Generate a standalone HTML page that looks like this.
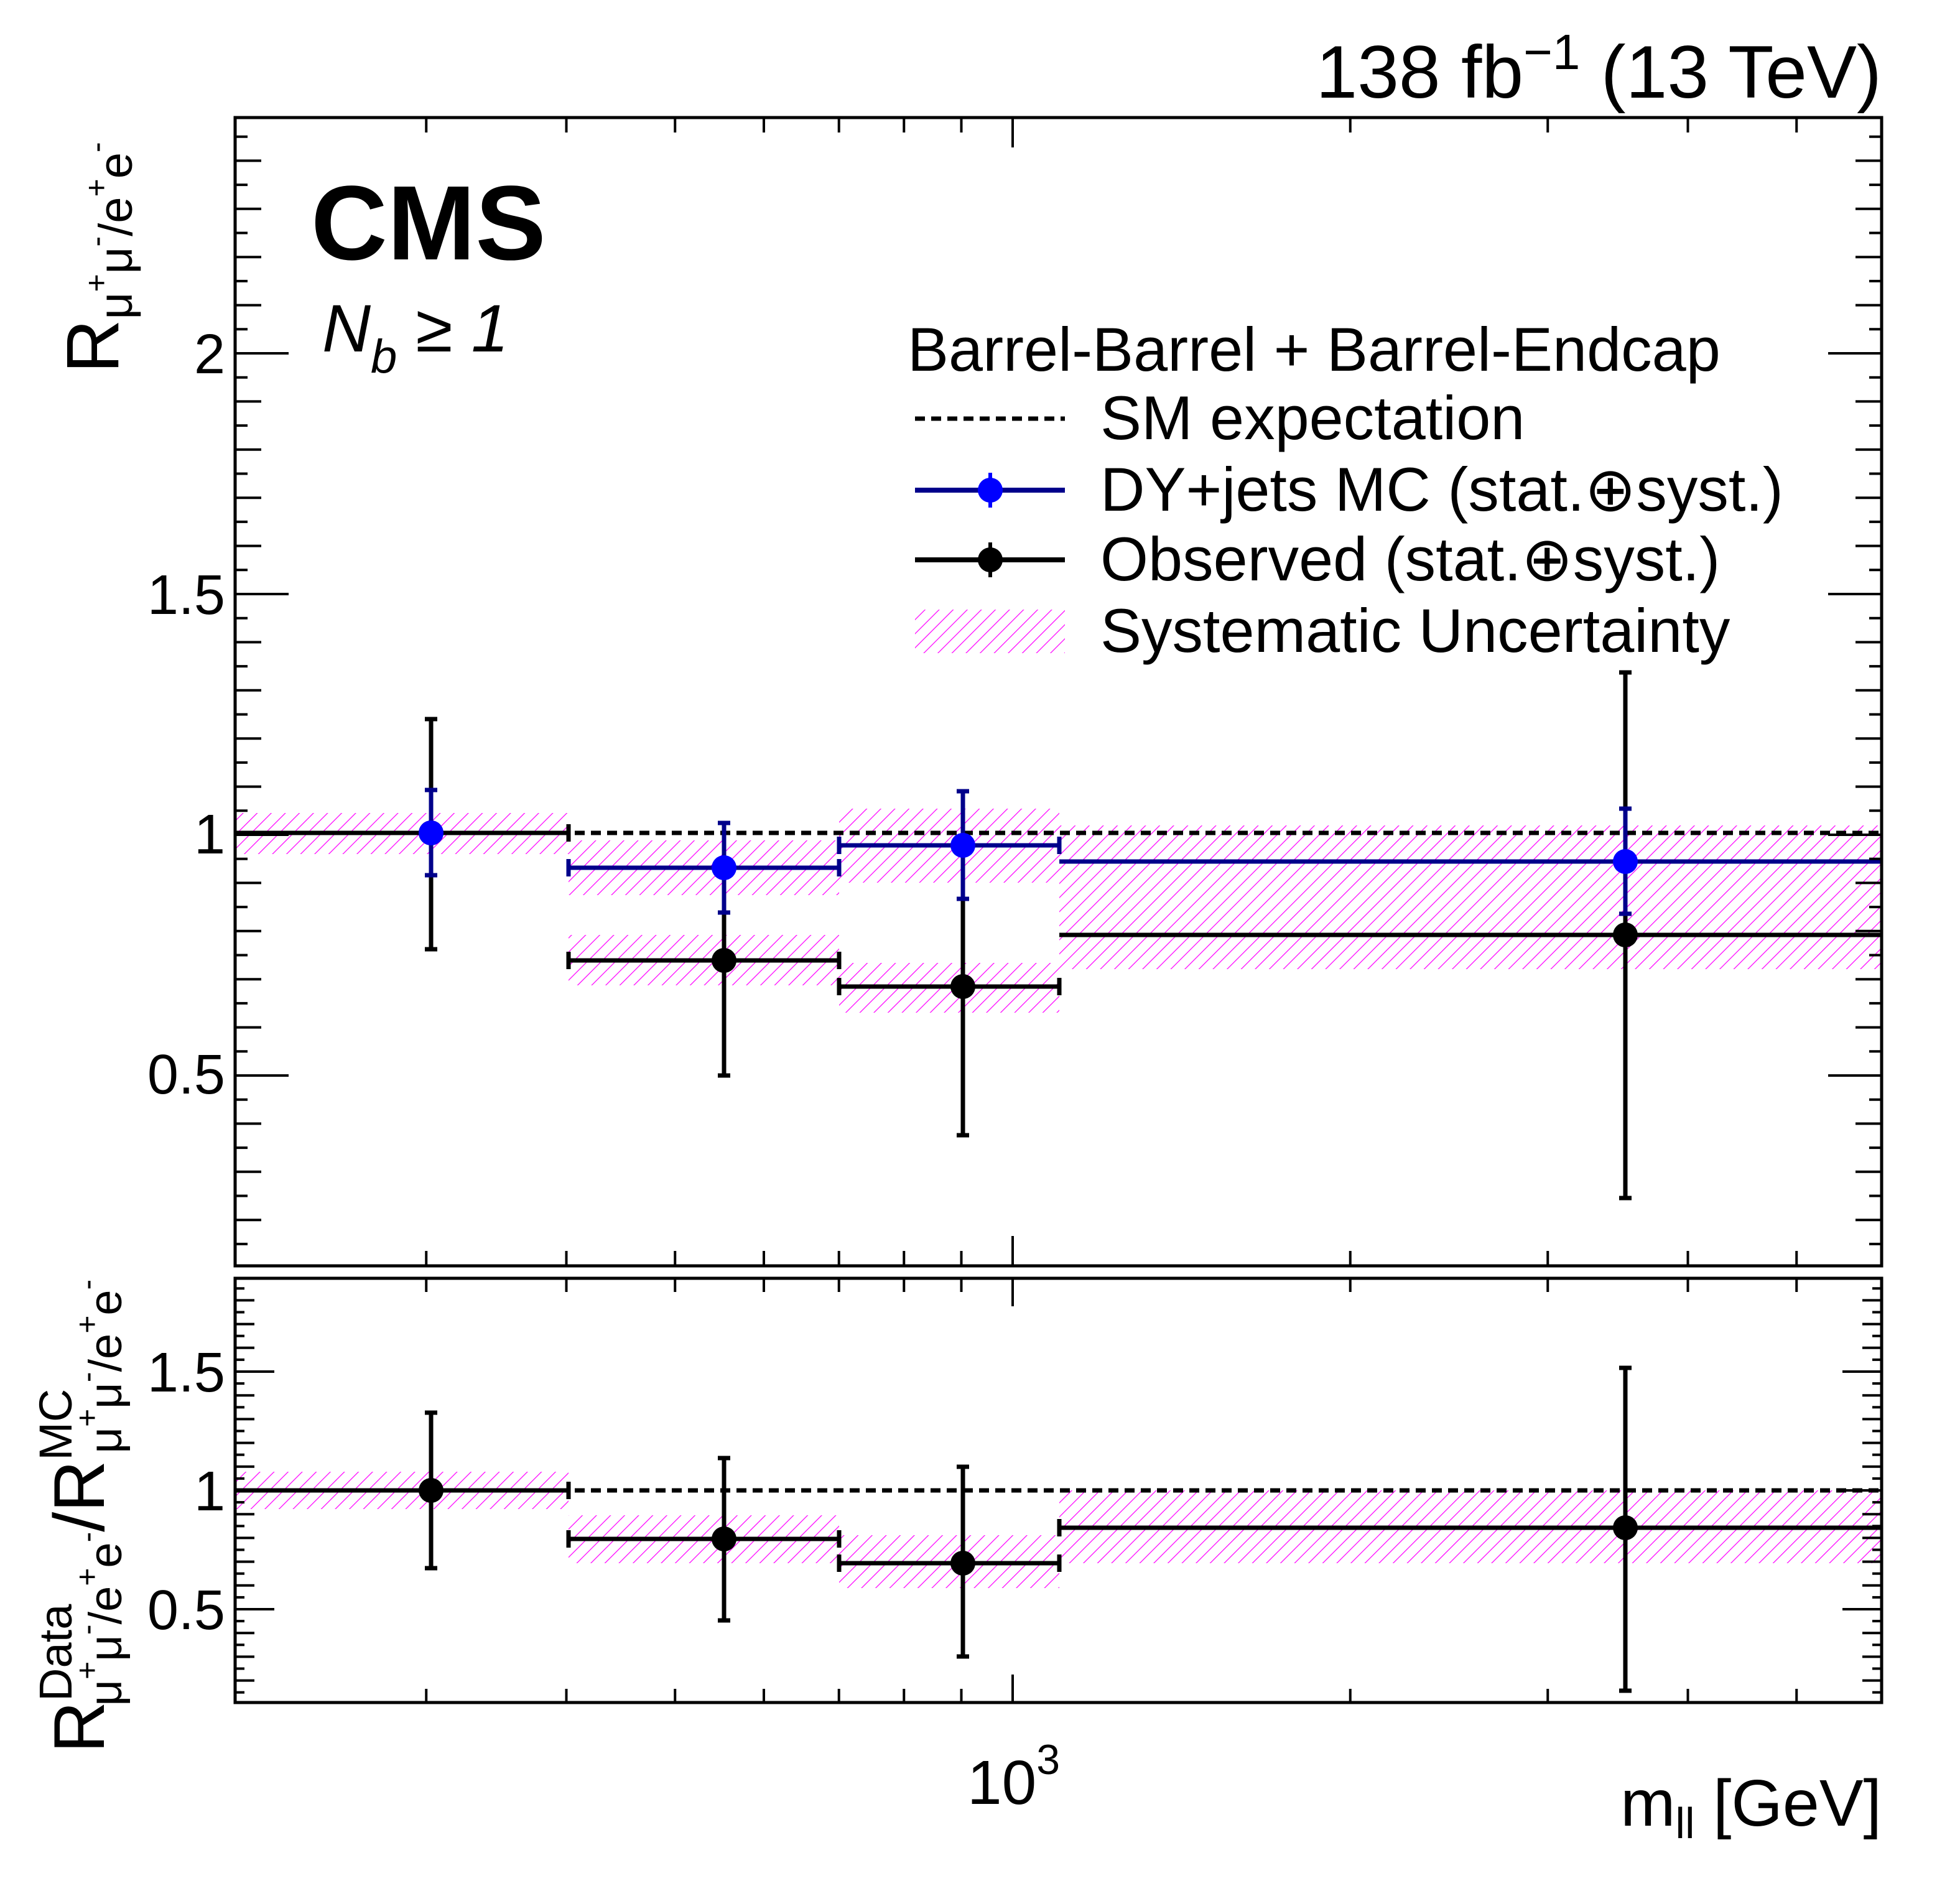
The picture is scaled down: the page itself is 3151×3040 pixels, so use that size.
<!DOCTYPE html>
<html><head><meta charset="utf-8"><style>
html,body{margin:0;padding:0;background:#fff;}
svg{display:block;}
text{font-family:"Liberation Sans",Arial,sans-serif;fill:#000;}
</style></head><body>
<svg width="3151" height="3040" viewBox="0 0 3151 3040" xmlns="http://www.w3.org/2000/svg">
<defs>
<pattern id="h" patternUnits="userSpaceOnUse" width="16" height="16" patternTransform="rotate(45)">
<line x1="0" y1="0" x2="0" y2="16" stroke="#ff00ff" stroke-width="2.5"/>
</pattern>
<clipPath id="cu"><rect x="378" y="189" width="2647" height="1846"/></clipPath>
<clipPath id="cl"><rect x="378" y="2055" width="2647" height="682"/></clipPath>
</defs>

<text x="3025" y="157" font-size="120" text-anchor="end">138 fb<tspan font-size="80" dy="-46">−1</tspan><tspan dy="46"> (13 TeV)</tspan></text>

<g clip-path="url(#cu)">
<rect x="378" y="1307" width="536" height="66" fill="url(#h)"/>
<rect x="914" y="1351" width="435" height="88" fill="url(#h)"/>
<rect x="914" y="1503" width="435" height="81" fill="url(#h)"/>
<rect x="1349" y="1300" width="354" height="119" fill="url(#h)"/>
<rect x="1349" y="1548" width="354" height="80" fill="url(#h)"/>
<rect x="1703" y="1327" width="1322" height="231" fill="url(#h)"/>
<line x1="378" y1="1339" x2="3025" y2="1339" stroke="#000" stroke-width="7" stroke-dasharray="16,10"/>
<g stroke="#000" stroke-width="7" fill="none">
<line x1="378" y1="1339" x2="914" y2="1339"/>
<line x1="693" y1="1156" x2="693" y2="1526"/>
<line x1="683" y1="1156" x2="703" y2="1156"/><line x1="683" y1="1526" x2="703" y2="1526"/>
<line x1="914" y1="1544" x2="1349" y2="1544"/>
<line x1="1164" y1="1359" x2="1164" y2="1729"/>
<line x1="1154" y1="1729" x2="1174" y2="1729"/>
<line x1="1349" y1="1586" x2="1703" y2="1586"/>
<line x1="1548" y1="1445" x2="1548" y2="1825"/>
<line x1="1538" y1="1825" x2="1558" y2="1825"/>
<line x1="1703" y1="1503" x2="3025" y2="1503"/>
<line x1="2613" y1="1081" x2="2613" y2="1926"/>
<line x1="2603" y1="1081" x2="2623" y2="1081"/><line x1="2603" y1="1926" x2="2623" y2="1926"/>
<line x1="914" y1="1530" x2="914" y2="1558"/><line x1="1349" y1="1530" x2="1349" y2="1558"/>
<line x1="1349" y1="1572" x2="1349" y2="1600"/><line x1="1703" y1="1572" x2="1703" y2="1600"/>
<line x1="914" y1="1325" x2="914" y2="1353"/>
</g>
<g fill="#000"><circle cx="693" cy="1339" r="20"/><circle cx="1164" cy="1544" r="20"/><circle cx="1548" cy="1586" r="20"/><circle cx="2613" cy="1503" r="20"/></g>
<g stroke="#00008b" stroke-width="7" fill="none">
<line x1="693" y1="1270" x2="693" y2="1407"/>
<line x1="683" y1="1270" x2="703" y2="1270"/><line x1="683" y1="1407" x2="703" y2="1407"/>
<line x1="914" y1="1395" x2="1349" y2="1395"/>
<line x1="1164" y1="1323" x2="1164" y2="1467"/>
<line x1="1154" y1="1323" x2="1174" y2="1323"/><line x1="1154" y1="1467" x2="1174" y2="1467"/>
<line x1="1349" y1="1359" x2="1703" y2="1359"/>
<line x1="1548" y1="1272" x2="1548" y2="1445"/>
<line x1="1538" y1="1272" x2="1558" y2="1272"/><line x1="1538" y1="1445" x2="1558" y2="1445"/>
<line x1="1703" y1="1385" x2="3025" y2="1385"/>
<line x1="2613" y1="1300" x2="2613" y2="1469"/>
<line x1="2603" y1="1300" x2="2623" y2="1300"/><line x1="2603" y1="1469" x2="2623" y2="1469"/>
<line x1="914" y1="1381" x2="914" y2="1409"/><line x1="1349" y1="1381" x2="1349" y2="1409"/>
<line x1="1349" y1="1345" x2="1349" y2="1373"/><line x1="1703" y1="1345" x2="1703" y2="1373"/>
</g>
<g fill="#0000ff"><circle cx="693" cy="1339" r="20"/><circle cx="1164" cy="1395" r="20"/><circle cx="1548" cy="1359" r="20"/><circle cx="2613" cy="1385" r="20"/></g>
</g>
<rect x="378" y="189" width="2647" height="1846" fill="none" stroke="#000" stroke-width="5"/>

<g clip-path="url(#cl)">
<rect x="378" y="2366" width="536" height="60" fill="url(#h)"/>
<rect x="914" y="2436" width="435" height="77" fill="url(#h)"/>
<rect x="1349" y="2468" width="354" height="85" fill="url(#h)"/>
<rect x="1703" y="2396" width="1322" height="117" fill="url(#h)"/>
<line x1="378" y1="2396" x2="3025" y2="2396" stroke="#000" stroke-width="7" stroke-dasharray="16,10"/>
<g stroke="#000" stroke-width="7" fill="none">
<line x1="378" y1="2396" x2="914" y2="2396"/>
<line x1="693" y1="2271" x2="693" y2="2521"/>
<line x1="683" y1="2271" x2="703" y2="2271"/><line x1="683" y1="2521" x2="703" y2="2521"/>
<line x1="914" y1="2474" x2="1349" y2="2474"/>
<line x1="1164" y1="2344" x2="1164" y2="2605"/>
<line x1="1154" y1="2344" x2="1174" y2="2344"/><line x1="1154" y1="2605" x2="1174" y2="2605"/>
<line x1="1349" y1="2513" x2="1703" y2="2513"/>
<line x1="1548" y1="2358" x2="1548" y2="2663"/>
<line x1="1538" y1="2358" x2="1558" y2="2358"/><line x1="1538" y1="2663" x2="1558" y2="2663"/>
<line x1="1703" y1="2456" x2="3025" y2="2456"/>
<line x1="2613" y1="2199" x2="2613" y2="2718"/>
<line x1="2603" y1="2199" x2="2623" y2="2199"/><line x1="2603" y1="2718" x2="2623" y2="2718"/>
<line x1="914" y1="2382" x2="914" y2="2410"/><line x1="914" y1="2460" x2="914" y2="2488"/>
<line x1="1349" y1="2460" x2="1349" y2="2488"/><line x1="1349" y1="2499" x2="1349" y2="2527"/>
<line x1="1703" y1="2499" x2="1703" y2="2527"/><line x1="1703" y1="2442" x2="1703" y2="2470"/>
</g>
<g fill="#000"><circle cx="693" cy="2396" r="20"/><circle cx="1164" cy="2474" r="20"/><circle cx="1548" cy="2513" r="20"/><circle cx="2613" cy="2456" r="20"/></g>
</g>
<rect x="378" y="2055" width="2647" height="682" fill="none" stroke="#000" stroke-width="5"/>

<g id="ticks" stroke="#000" stroke-width="4"></g>

<g font-size="90" text-anchor="end">
<text x="362" y="600">2</text>
<text x="362" y="987">1.5</text>
<text x="362" y="1372">1</text>
<text x="362" y="1758">0.5</text>
<text x="362" y="2237">1.5</text>
<text x="362" y="2428">1</text>
<text x="362" y="2619">0.5</text>
</g>
<text x="1555" y="2900" font-size="100">10<tspan font-size="68" dy="-48">3</tspan></text>
<text x="3025" y="2935" font-size="106" text-anchor="end">m<tspan font-size="70" dy="20">ll</tspan><tspan dy="-20"> [GeV]</tspan></text>

<text transform="translate(190,600) rotate(-90)" font-size="120">R<tspan font-size="76" dy="22">μ</tspan><tspan font-size="50" dy="-40">+</tspan><tspan font-size="76" dy="40">μ</tspan><tspan font-size="50" dy="-40">-</tspan><tspan font-size="76" dy="40">/e</tspan><tspan font-size="50" dy="-40">+</tspan><tspan font-size="76" dy="40">e</tspan><tspan font-size="50" dy="-40">-</tspan></text>
<text transform="translate(167,2818) rotate(-90)" font-size="115">R<tspan font-size="74" dy="-52">Data</tspan><tspan font-size="74" dx="-164" dy="80">μ</tspan><tspan font-size="50" dy="-38">+</tspan><tspan font-size="74" dy="38">μ</tspan><tspan font-size="50" dy="-38">-</tspan><tspan font-size="74" dy="38">/e</tspan><tspan font-size="50" dy="-38">+</tspan><tspan font-size="74" dy="38">e</tspan><tspan font-size="50" dy="-38">-</tspan><tspan font-size="115" dy="10">/R</tspan><tspan font-size="74" dy="-52">MC</tspan><tspan font-size="74" dx="-104" dy="80">μ</tspan><tspan font-size="50" dy="-38">+</tspan><tspan font-size="74" dy="38">μ</tspan><tspan font-size="50" dy="-38">-</tspan><tspan font-size="74" dy="38">/e</tspan><tspan font-size="50" dy="-38">+</tspan><tspan font-size="74" dy="38">e</tspan><tspan font-size="50" dy="-38">-</tspan></text>

<text x="500" y="417" font-size="170" font-weight="bold">CMS</text>
<text x="518" y="565" font-size="108" font-style="italic">N<tspan font-size="76" dy="34">b</tspan><tspan dy="-34" font-style="normal"> ≥ </tspan>1</text>

<g font-size="99">
<text x="1459" y="596">Barrel-Barrel + Barrel-Endcap</text>
<text x="1769" y="706">SM expectation</text>
<text x="1769" y="821">DY+jets MC (stat.⊕syst.)</text>
<text x="1769" y="933">Observed (stat.⊕syst.)</text>
<text x="1769" y="1048">Systematic Uncertainty</text>
</g>
<line x1="1471" y1="673" x2="1712" y2="673" stroke="#000" stroke-width="7" stroke-dasharray="16,10"/>
<line x1="1471" y1="788" x2="1712" y2="788" stroke="#00008b" stroke-width="8"/>
<line x1="1592" y1="760" x2="1592" y2="816" stroke="#0000ff" stroke-width="6"/>
<circle cx="1592" cy="788" r="20" fill="#0000ff"/>
<line x1="1471" y1="900" x2="1712" y2="900" stroke="#000" stroke-width="8"/>
<line x1="1592" y1="872" x2="1592" y2="928" stroke="#000" stroke-width="6"/>
<circle cx="1592" cy="900" r="20" fill="#000"/>
<rect x="1471" y="980" width="241" height="70" fill="url(#h)"/>
</svg>
<script>
(function(){
var g=document.getElementById('ticks'),s='';
function L(a,b,c,d){s+='<line x1="'+a+'" y1="'+b+'" x2="'+c+'" y2="'+d+'"/>';}
for(var i=2;i<=49;i++){var v=i*0.05,y=2116-774*v;if(y<189||y>2035)continue;
 var l=(i%10==0)?86:((i%2==0)?42:20);L(378,y,378+l,y);L(3025,y,3025-l,y);}
for(var i=2;i<=38;i++){var v=i*0.05,y=2396-(v-1)*382;if(y<2055||y>2737)continue;
 var l=(i%10==0)?63:((i%2==0)?31:15);L(378,y,378+l,y);L(3025,y,3025-l,y);}
var ms=[300,400,500,600,700,800,900,1000,2000,3000,4000,5000,6000];
ms.forEach(function(m){var x=1628+1803*Math.log10(m/1000);if(x<378||x>3025)return;
 var big=(m==1000);var lu=big?48:24,ll=big?45:22;
 L(x,189,x,189+lu);L(x,2035,x,2035-lu);L(x,2055,x,2055+ll);L(x,2737,x,2737-ll);});
g.innerHTML=s;
})();
</script>
</body></html>
